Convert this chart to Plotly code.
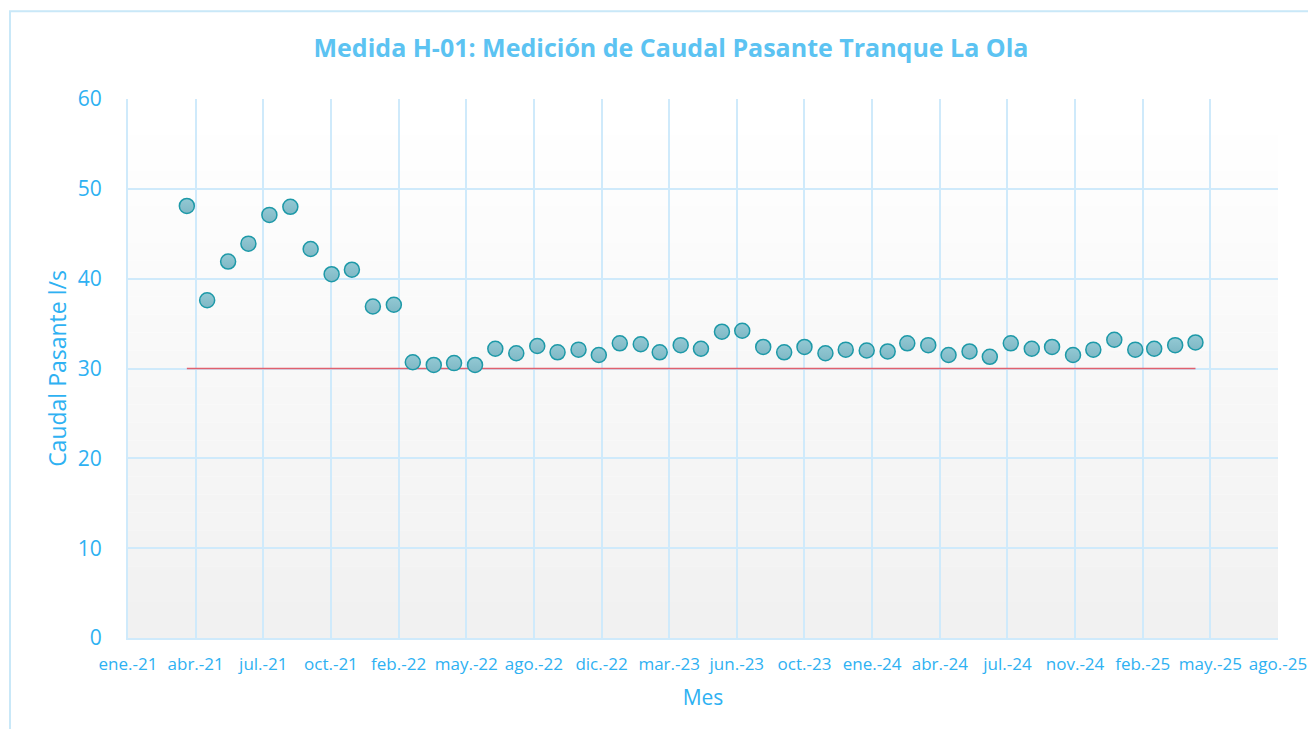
import datetime as dt
import plotly.graph_objects as go

# ---------------- data ----------------
start_month = (2021, 4)  # first measurement: abr.-21
caudal = [48.1, 37.6, 41.9, 43.9, 47.1, 48.0, 43.3, 40.5, 41.0, 36.9, 37.1,
          30.7, 30.4, 30.6, 30.4, 32.2, 31.7, 32.5, 31.8, 32.1, 31.5,
          32.8, 32.7, 31.8, 32.6, 32.2, 34.1, 34.2, 32.4, 31.8, 32.4,
          31.7, 32.1, 32.0, 31.9, 32.8, 32.6, 31.5, 31.9, 31.3, 32.8,
          32.2, 32.4, 31.5, 32.1, 33.2, 32.1, 32.2, 32.6, 32.9]
limite = 30
tick_labels = ["ene.-21", "abr.-21", "jul.-21", "oct.-21", "feb.-22", "may.-22",
               "ago.-22", "dic.-22", "mar.-23", "jun.-23", "oct.-23", "ene.-24",
               "abr.-24", "jul.-24", "nov.-24", "feb.-25", "may.-25", "ago.-25"]
y_ticks = [0, 10, 20, 30, 40, 50, 60]

# monthly dates
fechas = []
y0, m0 = start_month
for i in range(len(caudal)):
    m = m0 - 1 + i
    fechas.append(dt.date(y0 + m // 12, m % 12 + 1, 1))

axis_start = dt.date(2021, 1, 4)
step_days = 100
tick_vals = [axis_start + dt.timedelta(days=step_days * k) for k in range(len(tick_labels))]

title_color = "#5cc3f2"
tick_color = "#2eb1f2"
grid_color = "#cfeafb"

fig = go.Figure()

fig.add_trace(go.Scatter(
    x=[fechas[0], fechas[-1]], y=[limite, limite], mode="lines",
    line=dict(color="#e0606e", width=1.5), hoverinfo="skip", showlegend=False))

fig.add_trace(go.Scatter(
    x=fechas, y=caudal, mode="markers",
    marker=dict(size=15, color="#93c9d4",
                gradient=dict(type="vertical", color="#7fb8c5"),
                line=dict(color="#1d99a8", width=1.5)),
    showlegend=False))

# background gradient of plot area (white -> light grey)
n = 30
shapes = []
for i in range(n):
    t = i / (n - 1)
    g = int(round(255 - (255 - 241) * t))
    shapes.append(dict(type="rect", xref="paper", yref="paper",
                       x0=0, x1=1, y0=1 - (i + 1) / n, y1=1 - i / n,
                       fillcolor=f"rgb({g},{g},{g})", line=dict(width=0),
                       layer="below"))
# outer chart frame (left & top visible)
shapes.append(dict(type="rect", xref="paper", yref="paper",
                   x0=-0.1026, x1=1.08, y0=-0.3, y1=1.163,
                   line=dict(color="#c9e8f8", width=2), fillcolor="rgba(0,0,0,0)",
                   layer="below"))

font_family = "'Open Sans', Lato, sans-serif"

fig.update_layout(
    width=1300, height=721,
    margin=dict(l=120, r=30, t=91, b=91, autoexpand=False),
    paper_bgcolor="white", plot_bgcolor="white",
    shapes=shapes,
    title=dict(text="<b>Medida H-01: Medición de Caudal Pasante Tranque La Ola</b>",
               xref="container", x=0.51, xanchor="center",
               yref="container", y=0.944, yanchor="middle",
               font=dict(family=font_family, size=25, color=title_color)),
    xaxis=dict(
        type="date",
        range=[axis_start, tick_vals[-1]],
        tickmode="array", tickvals=tick_vals, ticktext=tick_labels,
        showgrid=True, gridcolor=grid_color, gridwidth=1.5,
        showline=True, linecolor=grid_color, linewidth=2, mirror=False,
        ticks="", ticklabelstandoff=10,
        tickfont=dict(family=font_family, size=17, color=tick_color),
        title=dict(text="Mes", font=dict(family=font_family, size=21, color=tick_color),
                   standoff=16),
        zeroline=False,
    ),
    yaxis=dict(
        range=[0, 60], tickmode="array", tickvals=y_ticks,
        showgrid=True, gridcolor=grid_color, gridwidth=1.5,
        showline=True, linecolor=grid_color, linewidth=2,
        ticks="", ticklabelstandoff=20,
        tickfont=dict(family=font_family, size=21, color=tick_color),
        title=dict(text="Caudal Pasante l/s",
                   font=dict(family=font_family, size=23, color=tick_color),
                   standoff=5),
        zeroline=False,
    ),
)

fig.write_html("out.html")
